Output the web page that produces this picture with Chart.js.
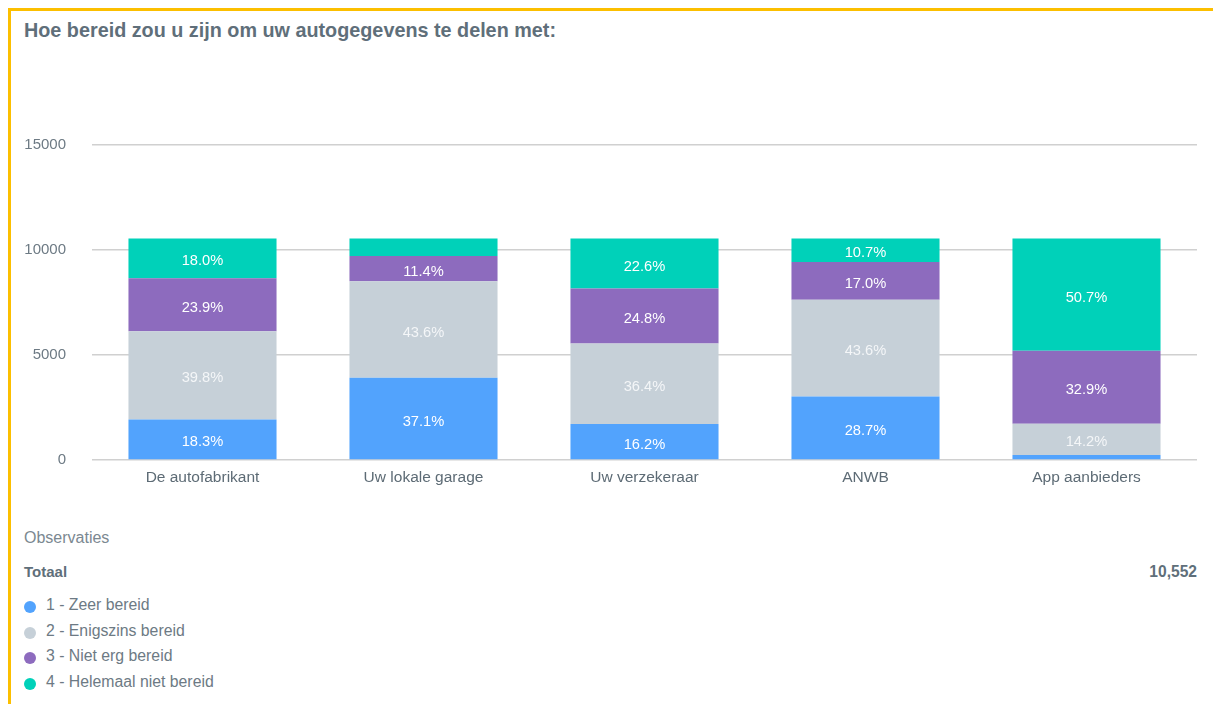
<!DOCTYPE html>
<html>
<head>
<meta charset="utf-8">
<title>Hoe bereid zou u zijn om uw autogegevens te delen met</title>
<script src="https://cdn.jsdelivr.net/npm/chart.js@4/dist/chart.umd.min.js"></script>
<style>
  html, body { margin: 0; padding: 0; background: #fff; }
  body { width: 1213px; height: 704px; position: relative; overflow: hidden;
         font-family: "Liberation Sans", Arial, sans-serif; }
  .frame { position: absolute; left: 8px; top: 8px; right: 0; bottom: 0;
           border-top: 3px solid #fcbf00; border-left: 3px solid #fcbf00; }
  .title { position: absolute; left: 24px; top: 19px; font-size: 19.8px; font-weight: bold; color: #5f6f7a; }
  .chart-box { position: absolute; left: 14px; top: 110px; width: 1199px; height: 385px; }
  .obs { position: absolute; left: 24px; top: 529px; font-size: 16px; color: #7b8891; }
  .tot { position: absolute; left: 24px; top: 563px; font-size: 15px; font-weight: bold; color: #5f6f7a; }
  .totval { position: absolute; right: 16px; top: 563px; font-size: 15.6px; font-weight: bold; color: #5f6f7a; }
  .legend { position: absolute; left: 24px; top: 595px; font-size: 15.8px; color: #6d7a84; }
  .legend div { height: 25.5px; line-height: 20px; }
  .legend span.dot { display: inline-block; width: 12px; height: 12px; border-radius: 50%;
                     margin-right: 10px; vertical-align: -3px; }
</style>
</head>
<body>
<div class="frame"></div>
<div class="title">Hoe bereid zou u zijn om uw autogegevens te delen met:</div>
<div class="chart-box"><canvas id="barChart"></canvas></div>
<div class="obs">Observaties</div>
<div class="tot">Totaal</div>
<div class="totval" id="totalValue"></div>
<div class="legend" id="legend"></div>

<script>
'use strict';
// categories and answers
var categories = ["De autofabrikant", "Uw lokale garage", "Uw verzekeraar", "ANWB", "App aanbieders"];
var answers = ["1 - Zeer bereid", "2 - Enigszins bereid", "3 - Niet erg bereid", "4 - Helemaal niet bereid"];
var colors = ['#52a3fd', '#c6d0d8', '#8d6bbe', '#00d1b9'];

// observations (same for every bar)
var total = 10552;

// share per answer, in percent (unlabeled ones)
var pctZeer      = [18.3, 37.1, 16.2, 28.7, 2.2];
var pctEnigszins = [39.8, 43.6, 36.4, 43.6, 14.2];
var pctNietErg   = [23.9, 11.4, 24.8, 17.0, 32.9];
var pctHelemaal  = [18.0, 7.9, 22.6, 10.7, 50.7];

var yTicks = [0, 5000, 10000, 15000];

var pctSeries = [pctZeer, pctEnigszins, pctNietErg, pctHelemaal];
var fontFamily = '"Liberation Sans", Arial, sans-serif';

var datasets = pctSeries.map(function(p, i) {
  return {
    label: answers[i],
    pct: p,
    data: p.map(function(v) { return total * v / 100; }),
    backgroundColor: colors[i],
    borderWidth: 0,
    barPercentage: 0.67,
    categoryPercentage: 1
  };
});

// draws the percentage in the middle of each segment
var segmentLabels = {
  id: 'segmentLabels',
  afterDatasetsDraw: function(chart) {
    var ctx = chart.ctx;
    ctx.save();
    ctx.font = '14.7px ' + fontFamily;
    ctx.textAlign = 'center';
    ctx.textBaseline = 'middle';
    chart.data.datasets.forEach(function(ds, i) {
      var meta = chart.getDatasetMeta(i);
      meta.data.forEach(function(bar, j) {
        var p = ds.pct[j];
        if (p < 10) return;
        ctx.fillStyle = i === 1 ? '#f4f6f8' : '#ffffff';
        ctx.fillText(p.toFixed(1) + '%', bar.x, (bar.y + bar.base) / 2 + 3);
      });
    });
    ctx.restore();
  }
};

var ctx = document.getElementById('barChart').getContext('2d');
var barChart = new Chart(ctx, {
  type: 'bar',
  data: { labels: categories, datasets: datasets },
  plugins: [segmentLabels],
  options: {
    responsive: true,
    maintainAspectRatio: false,
    animation: false,
    layout: { padding: { top: 13, right: 16 } },
    plugins: { legend: { display: false }, tooltip: { enabled: false } },
    scales: {
      x: {
        stacked: true,
        grid: { display: false, drawTicks: false },
        border: { display: false },
        ticks: { color: '#5d6b75', padding: 8, font: { size: 15.5, family: fontFamily } },
        afterFit: function(scale) { scale.height = 35; }
      },
      y: {
        stacked: true,
        min: 0,
        max: 15000,
        afterBuildTicks: function(scale) {
          scale.ticks = yTicks.map(function(v) { return { value: v }; });
        },
        grid: { color: '#d0d0d0', lineWidth: 1.5, drawTicks: false },
        border: { display: false },
        ticks: {
          color: '#6d7a84', padding: 26, font: { size: 15, family: fontFamily },
          callback: function(v) { return String(v); }
        },
        afterFit: function(scale) { scale.width = 78; }
      }
    }
  }
});

document.getElementById('totalValue').textContent = total.toLocaleString('en-US');
document.getElementById('legend').innerHTML = answers.map(function(a, i) {
  return '<div><span class="dot" style="background:' + colors[i] + '"></span>' + a + '</div>';
}).join('');
</script>
</body>
</html>
